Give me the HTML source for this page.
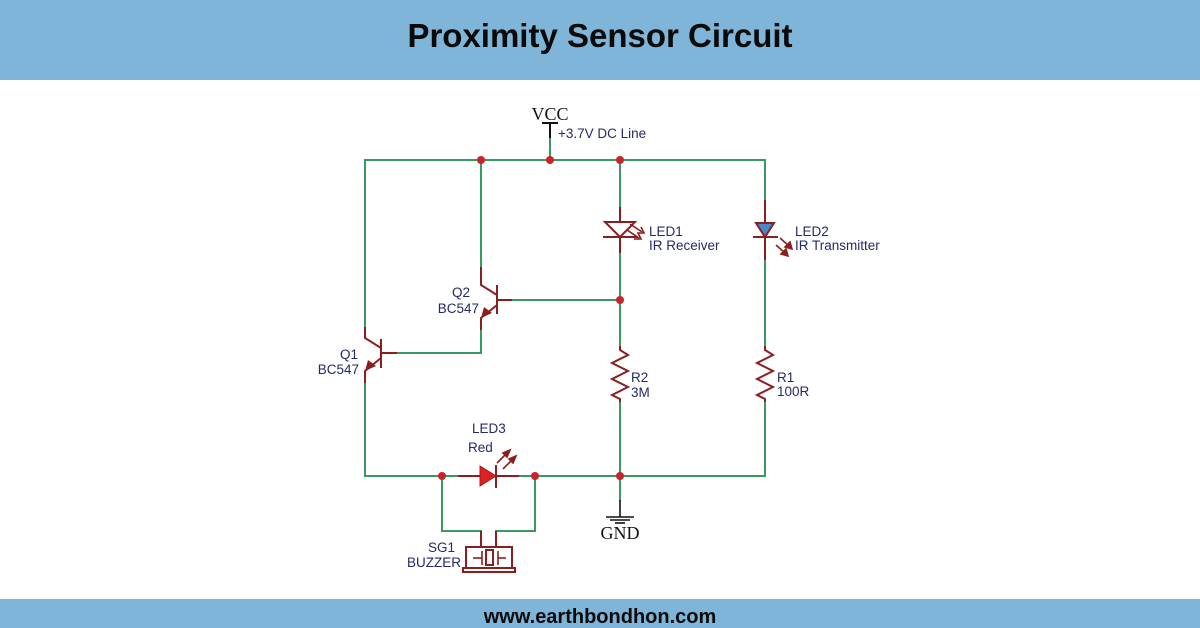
<!DOCTYPE html>
<html>
<head>
<meta charset="utf-8">
<style>
  html,body{margin:0;padding:0;background:#fff;}
  body{width:1200px;height:628px;overflow:hidden;position:relative;}
  .hdr{position:absolute;left:0;top:0;width:1200px;height:80px;background:#7eb5d8;}
  .ftr{position:absolute;left:0;top:599px;width:1200px;height:29px;background:#7eb5d8;}
  svg{position:absolute;left:0;top:0;}
</style>
</head>
<body>
<div class="hdr"></div>
<div class="ftr"></div>
<svg width="1200" height="628" viewBox="0 0 1200 628" xmlns="http://www.w3.org/2000/svg">
  <!-- Title -->
  <text x="600" y="47" text-anchor="middle" font-family="Liberation Sans, Arial, sans-serif" font-weight="bold" font-size="33" fill="#0a0a0a">Proximity Sensor Circuit</text>
  <text x="600" y="623" text-anchor="middle" font-family="Liberation Sans, Arial, sans-serif" font-weight="bold" font-size="20" fill="#0a0a0a">www.earthbondhon.com</text>

  <!-- Wires (green) -->
  <g stroke="#3a9960" stroke-width="2" fill="none" stroke-linecap="square">
    <!-- top rail -->
    <polyline points="365,327 365,160 765,160 765,200"/>
    <line x1="550" y1="138" x2="550" y2="160"/>
    <!-- Q2 collector -->
    <line x1="481" y1="160" x2="481" y2="267"/>
    <!-- LED1 column -->
    <line x1="620" y1="160" x2="620" y2="207"/>
    <line x1="620" y1="253" x2="620" y2="346"/>
    <!-- Q2 base -->
    <line x1="512" y1="300" x2="620" y2="300"/>
    <!-- Q2 emitter to Q1 base -->
    <polyline points="481,330 481,353 397,353"/>
    <!-- Q1 emitter down -->
    <polyline points="365,383 365,476 458,476"/>
    <!-- LED3 right to rail -->
    <line x1="519" y1="476" x2="765" y2="476"/>
    <line x1="765" y1="402" x2="765" y2="476"/>
    <line x1="620" y1="402" x2="620" y2="476"/>
    <line x1="620" y1="476" x2="620" y2="500"/>
    <!-- LED2 column -->
    <line x1="765" y1="260" x2="765" y2="346"/>
    <!-- buzzer wires -->
    <polyline points="442,476 442,531 481,531"/>
    <polyline points="535,476 535,531 496,531"/>
  </g>

  <!-- VCC symbol -->
  <g stroke="#111" stroke-width="2" fill="none">
    <line x1="542" y1="123" x2="558" y2="123"/>
    <line x1="550" y1="123" x2="550" y2="138"/>
  </g>
  <text x="550" y="120" text-anchor="middle" font-family="Liberation Serif, Times New Roman, serif" font-size="18" fill="#111">VCC</text>

  <!-- GND symbol -->
  <g stroke="#111" stroke-width="1.6" fill="none">
    <line x1="620" y1="500" x2="620" y2="517"/>
    <line x1="606" y1="517" x2="634" y2="517"/>
    <line x1="610" y1="520" x2="630" y2="520"/>
    <line x1="615" y1="523" x2="625" y2="523"/>
  </g>
  <text x="620" y="539" text-anchor="middle" font-family="Liberation Serif, Times New Roman, serif" font-size="18" fill="#111">GND</text>

  <!-- Components (dark red) -->
  <g stroke="#8b1e1e" stroke-width="2" fill="none" stroke-linejoin="miter">
    <!-- Q2 -->
    <polyline points="481,267 481,285 497,295"/>
    <line x1="497" y1="285" x2="497" y2="314"/>
    <line x1="497" y1="300" x2="512" y2="300"/>
    <polyline points="497,305 481,318 481,330"/>
    <!-- Q1 -->
    <polyline points="365,327 365,338 381,348"/>
    <line x1="381" y1="339" x2="381" y2="368"/>
    <line x1="381" y1="353" x2="397" y2="353"/>
    <polyline points="381,358 365,371 365,383"/>
    <!-- LED1 (receiver, outline) -->
    <line x1="620" y1="207" x2="620" y2="222"/>
    <polygon points="605,222 635,222 620,237" fill="#fff"/>
    <line x1="603" y1="237" x2="637" y2="237"/>
    <line x1="620" y1="237" x2="620" y2="253"/>
    <!-- LED2 -->
    <line x1="765" y1="200" x2="765" y2="223"/>
    <polygon points="756,223 774,223 765,237" fill="#4a86c8"/>
    <line x1="753" y1="237" x2="778" y2="237"/>
    <line x1="765" y1="237" x2="765" y2="260"/>
    <!-- R2 -->
    <polyline points="620,346 620,350 628,355 612,363 628,371 612,379 628,387 612,395 620,399 620,402"/>
    <!-- R1 -->
    <polyline points="765,346 765,350 773,355 757,363 773,371 757,379 773,387 757,395 765,399 765,402"/>
    <!-- LED3 -->
    <line x1="458" y1="476" x2="480" y2="476"/>
    <line x1="496" y1="476" x2="519" y2="476"/>
    <line x1="496" y1="465" x2="496" y2="488"/>
    <!-- buzzer -->
    <line x1="481" y1="531" x2="481" y2="547"/>
    <line x1="496" y1="531" x2="496" y2="547"/>
    <rect x="466" y="547" width="46" height="21"/>
    <rect x="463" y="568" width="52" height="4"/>
    <rect x="486" y="550" width="7" height="15"/>
    <line x1="482" y1="551" x2="482" y2="565" stroke-width="1.6"/>
    <line x1="498" y1="551" x2="498" y2="565" stroke-width="1.6"/>
    <line x1="473" y1="558" x2="482" y2="558" stroke-width="1.6"/>
    <line x1="498" y1="558" x2="506" y2="558" stroke-width="1.6"/>
  </g>

  <!-- transistor arrows -->
  <polygon points="481,318 484,307 492,313" fill="#8b1e1e"/>
  <polygon points="365,371 368,360 376,366" fill="#8b1e1e"/>

  <!-- LED3 triangle -->
  <polygon points="480,466 480,486 496,476" fill="#e02020" stroke="#a01818" stroke-width="1"/>
  <!-- LED3 arrows -->
  <g stroke="#8b1e1e" stroke-width="1.6" fill="#8b1e1e">
    <line x1="497" y1="463" x2="507" y2="453"/>
    <polygon points="510,450 503,453 507,457"/>
    <line x1="503" y1="469" x2="513" y2="459"/>
    <polygon points="516,456 509,459 513,463"/>
  </g>

  <!-- LED1 arrows (outline-ish) -->
  <g stroke="#8b1e1e" stroke-width="1.6" fill="none">
    <line x1="630" y1="224" x2="642" y2="232"/>
    <polyline points="637,233 644,233 641,227"/>
    <line x1="627" y1="230" x2="639" y2="238"/>
    <polyline points="634,239 641,239 638,233"/>
  </g>
  <!-- LED2 arrows -->
  <g stroke="#8b1e1e" stroke-width="1.6" fill="#8b1e1e">
    <line x1="780" y1="238" x2="789" y2="246"/>
    <polygon points="792,249 785,247 790,242"/>
    <line x1="776" y1="245" x2="785" y2="253"/>
    <polygon points="788,256 781,254 786,249"/>
  </g>

  <!-- Junction dots -->
  <g fill="#cc2229">
    <circle cx="481" cy="160" r="4"/>
    <circle cx="550" cy="160" r="4"/>
    <circle cx="620" cy="160" r="4"/>
    <circle cx="620" cy="300" r="4"/>
    <circle cx="620" cy="476" r="4"/>
    <circle cx="442" cy="476" r="4"/>
    <circle cx="535" cy="476" r="4"/>
  </g>

  <!-- Labels -->
  <g font-family="Liberation Sans, Arial, sans-serif" font-size="13.5" fill="#25296b">
    <text x="558" y="138">+3.7V DC Line</text>
    <text x="649" y="236">LED1</text>
    <text x="649" y="250">IR Receiver</text>
    <text x="795" y="236">LED2</text>
    <text x="795" y="250">IR Transmitter</text>
    <text x="470" y="297" text-anchor="end">Q2</text>
    <text x="479" y="313" text-anchor="end">BC547</text>
    <text x="358" y="359" text-anchor="end">Q1</text>
    <text x="359" y="374" text-anchor="end">BC547</text>
    <text x="631" y="382">R2</text>
    <text x="631" y="397">3M</text>
    <text x="777" y="382">R1</text>
    <text x="777" y="396">100R</text>
    <text x="472" y="433">LED3</text>
    <text x="468" y="452">Red</text>
    <text x="455" y="552" text-anchor="end">SG1</text>
    <text x="461" y="567" text-anchor="end">BUZZER</text>
  </g>
</svg>
</body>
</html>
